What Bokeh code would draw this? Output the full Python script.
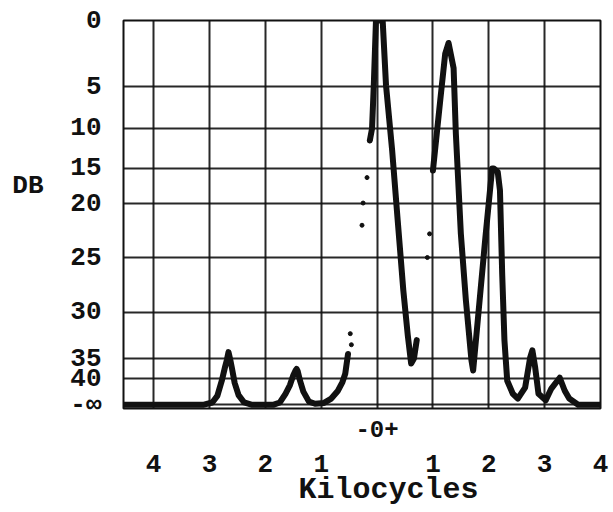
import numpy as np
from bokeh.plotting import figure
from bokeh.models import Range1d, LinearAxis, FixedTicker, Title
from bokeh.embed import file_html
from bokeh.resources import INLINE

# ---- chart scales -------------------------------------------------------
# dB marks of the (non-linear) recorder scale and their calibrated place
# on the paper (1 = 0 dB line, 0 = the "-inf" line)
DB_TICKS = [0, 5, 10, 15, 20, 25, 30, 35, 40]
DB_SCALE = [1.0, 0.828, 0.719, 0.615, 0.523, 0.383, 0.240, 0.120, 0.068]
NEG_INF_DB = 46          # level at which the trace sits on the "-inf" line
DB_LABEL_AT = 17.5       # where the "DB" caption stands

X_TICKS = [-4, -3, -2, -1, 1, 2, 3, 4]
X_LABELS = ["4", "3", "2", "1", "1", "2", "3", "4"]
INF = float("inf")

# ---- spectrum trace (kHz from carrier, dB below carrier) -----------------
SEG_A_KHZ = [-4.54, -3.10, -2.95, -2.86, -2.78, -2.72, -2.69, -2.66, -2.63,
             -2.60, -2.55, -2.48, -2.38, -2.25, -1.85, -1.74, -1.64, -1.56,
             -1.50, -1.46, -1.44, -1.42, -1.38, -1.32, -1.22, -1.11, -0.95,
             -0.82, -0.70, -0.62, -0.57, -0.52]
SEG_A_DB = [INF, INF, 45.5, 44.0, 40.5, 37.0, 35.4, 34.3, 35.2,
            37.3, 41.0, 43.8, 45.5, INF, INF, 45.5, 43.5, 41.5,
            39.2, 38.0, 37.6, 38.2, 40.5, 43.0, 45.3, 45.8, 45.6,
            44.6, 42.8, 40.8, 38.8, 34.5]

DOTS_KHZ = [-0.48, -0.46, -0.27, -0.25, -0.18, -0.13, 0.90, 0.94]
DOTS_DB = [32.3, 33.5, 22.0, 19.9, 16.3, 11.5, 25.0, 22.8]

SEG_B_KHZ = [-0.13, -0.09, -0.06, -0.02, 0.10, 0.16, 0.27, 0.37, 0.47,
             0.55, 0.61, 0.66, 0.71]
SEG_B_DB = [11.5, 10.0, 5.0, 0.0, 0.0, 4.9, 12.75, 21.6, 28.0,
            32.5, 36.25, 35.0, 33.0]

SEG_C_KHZ = [1.00, 1.13, 1.22, 1.28, 1.37, 1.41, 1.50, 1.59, 1.69, 1.72,
             1.83, 1.94, 2.06, 2.09, 2.16, 2.20, 2.24, 2.28, 2.33, 2.43,
             2.52, 2.65, 2.74, 2.78, 2.83, 2.89, 3.02, 3.12, 3.27, 3.36,
             3.44, 3.60, 4.0]
SEG_C_DB = [15.3, 6.7, 2.5, 1.7, 3.6, 10.6, 22.8, 28.9, 35.5, 38.0,
            29.2, 23.1, 15.0, 15.0, 15.5, 18.1, 26.5, 33.0, 40.5, 43.5,
            44.6, 42.1, 34.9, 34.1, 37.2, 43.5, 45.0, 42.3, 39.8, 42.8,
            44.6, INF, INF]


def db_to_y(db):
    """Recorder scale: dB below carrier -> place on the paper."""
    return np.interp(np.asarray(db, dtype=float),
                     DB_TICKS + [NEG_INF_DB], DB_SCALE + [0.0])


FONT = "Liberation Mono"
INK = "#111111"

p = figure(width=613, height=512, output_backend="svg", toolbar_location=None,
           x_range=Range1d(-4.54, 4.0), y_range=Range1d(-0.01, 1.0),
           min_border_left=123, min_border_right=13,
           min_border_top=20, min_border_bottom=104)
p.background_fill_color = "white"
p.border_fill_color = "white"
p.outline_line_color = INK
p.outline_line_width = 2

# grid
y_ticks = [float(v) for v in db_to_y(DB_TICKS)] + [0.0]
p.xgrid.ticker = FixedTicker(ticks=[-4, -3, -2, -1, 0, 1, 2, 3, 4])
p.ygrid.ticker = FixedTicker(ticks=y_ticks)
for g in (p.xgrid, p.ygrid):
    g.grid_line_color = INK
    g.grid_line_width = 2
    g.grid_line_alpha = 0.9


def style(ax, size):
    ax.axis_line_color = None
    ax.major_tick_line_color = None
    ax.minor_tick_line_color = None
    ax.major_tick_out = 0
    ax.major_tick_in = 0
    ax.major_label_text_font = FONT
    ax.major_label_text_font_size = size
    ax.major_label_text_font_style = "bold"
    ax.major_label_text_color = INK


# y axis: dB labels
ya = p.yaxis[0]
style(ya, "26px")
ya.ticker = FixedTicker(ticks=y_ticks)
ya.major_label_overrides = {**{y: str(d) for y, d in zip(y_ticks, DB_TICKS)},
                            0.0: "-∞"}
ya.major_label_standoff = 22

# "DB" caption as a second left axis (horizontal text)
db_ax = LinearAxis(ticker=FixedTicker(ticks=[float(db_to_y(DB_LABEL_AT))]))
style(db_ax, "26px")
db_ax.major_label_overrides = {float(db_to_y(DB_LABEL_AT)): "DB"}
db_ax.major_label_standoff = 24
p.add_layout(db_ax, "left")

# x axis: "-0+" at carrier, then kHz numbers
xa = p.xaxis[0]
style(xa, "24px")
xa.ticker = FixedTicker(ticks=[0])
xa.major_label_overrides = {0: "-0+"}
xa.major_label_standoff = 12

kx = LinearAxis(ticker=FixedTicker(ticks=X_TICKS))
style(kx, "26px")
kx.major_label_overrides = {t: s for t, s in zip(X_TICKS, X_LABELS)}
kx.major_label_standoff = 15
p.add_layout(kx, "below")

# caption under the kHz numbers
cap = Title(text="Kilocycles", align="left", offset=175,
            text_font=FONT, text_font_size="30px", text_font_style="bold",
            text_color=INK, standoff=-7)
p.add_layout(cap, "below")

# trace
for xs, ds in ((SEG_A_KHZ, SEG_A_DB), (SEG_B_KHZ, SEG_B_DB), (SEG_C_KHZ, SEG_C_DB)):
    p.line(xs, db_to_y(ds), line_color=INK, line_width=6,
           line_join="round", line_cap="round")
p.scatter(DOTS_KHZ, db_to_y(DOTS_DB), size=4, color=INK)

open("out.html", "w").write(file_html(p, INLINE))
